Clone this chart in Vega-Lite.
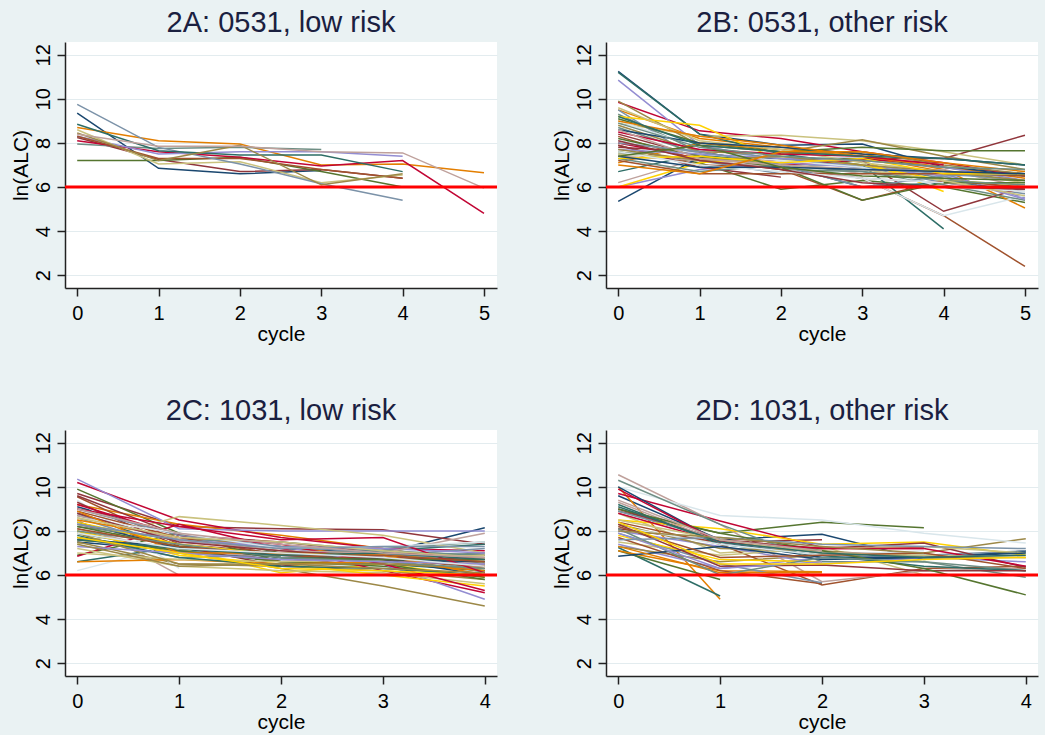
{
"$schema": "https://vega.github.io/schema/vega-lite/v6.json",
"background": "#eaf2f3",
"padding": {"left": 10, "top": 9, "right": 5, "bottom": 3},
"datasets": {
"A": [
{"s":1,"c":0,"y":9.35},{"s":1,"c":1,"y":6.85},{"s":1,"c":2,"y":6.6},{"s":1,"c":3,"y":6.75},
{"s":2,"c":0,"y":8.25},{"s":2,"c":1,"y":7.25},{"s":2,"c":2,"y":6.7},{"s":2,"c":3,"y":6.8},{"s":2,"c":4,"y":6.4},
{"s":3,"c":0,"y":7.2},{"s":3,"c":1,"y":7.2},{"s":3,"c":2,"y":7.35},{"s":3,"c":3,"y":6.7},{"s":3,"c":4,"y":6.0},
{"s":4,"c":0,"y":8.7},{"s":4,"c":1,"y":8.1},{"s":4,"c":2,"y":7.95},{"s":4,"c":3,"y":7.0},{"s":4,"c":4,"y":7.05},{"s":4,"c":5,"y":6.65},
{"s":5,"c":0,"y":7.95},{"s":5,"c":1,"y":7.75},{"s":5,"c":2,"y":7.8},{"s":5,"c":3,"y":7.7},
{"s":6,"c":0,"y":8.1},{"s":6,"c":1,"y":7.6},{"s":6,"c":2,"y":7.35},{"s":6,"c":3,"y":6.95},{"s":6,"c":4,"y":7.2},{"s":6,"c":5,"y":4.8},
{"s":7,"c":0,"y":8.3},{"s":7,"c":1,"y":7.5},{"s":7,"c":2,"y":7.6},{"s":7,"c":3,"y":7.6},{"s":7,"c":4,"y":7.4},
{"s":8,"c":0,"y":8.6},{"s":8,"c":1,"y":7.05},{"s":8,"c":2,"y":7.15},{"s":8,"c":3,"y":6.2},{"s":8,"c":4,"y":6.55},
{"s":9,"c":0,"y":8.3},{"s":9,"c":1,"y":7.3},{"s":9,"c":2,"y":7.3},{"s":9,"c":3,"y":6.8},{"s":9,"c":4,"y":6.4},
{"s":10,"c":0,"y":9.75},{"s":10,"c":1,"y":7.8},{"s":10,"c":2,"y":7.05},{"s":10,"c":3,"y":6.15},{"s":10,"c":4,"y":5.4},
{"s":11,"c":0,"y":8.85},{"s":11,"c":1,"y":7.65},{"s":11,"c":2,"y":7.45},{"s":11,"c":3,"y":7.45},{"s":11,"c":4,"y":6.7},
{"s":12,"c":0,"y":8.45},{"s":12,"c":1,"y":7.2},{"s":12,"c":2,"y":7.9},{"s":12,"c":3,"y":6.1},{"s":12,"c":4,"y":6.6},
{"s":13,"c":0,"y":8.4},{"s":13,"c":1,"y":7.85},{"s":13,"c":2,"y":7.85},{"s":13,"c":3,"y":7.6},{"s":13,"c":4,"y":7.55},{"s":13,"c":5,"y":5.95}
],
"B": [
{"s":1,"c":0,"y":11.25},{"s":1,"c":1,"y":8.4},{"s":1,"c":2,"y":7.9},{"s":1,"c":3,"y":7.95},{"s":1,"c":4,"y":6.9},{"s":1,"c":5,"y":6.6},
{"s":2,"c":0,"y":8.4},{"s":2,"c":1,"y":7.4},{"s":2,"c":2,"y":7.2},{"s":2,"c":3,"y":7.3},{"s":2,"c":4,"y":7.3},{"s":2,"c":5,"y":8.35},
{"s":3,"c":0,"y":7.6},{"s":3,"c":1,"y":7.1},{"s":3,"c":2,"y":5.9},{"s":3,"c":3,"y":6.3},{"s":3,"c":4,"y":6.0},{"s":3,"c":5,"y":5.3},
{"s":4,"c":0,"y":9.5},{"s":4,"c":1,"y":8.2},{"s":4,"c":2,"y":7.8},{"s":4,"c":3,"y":7.5},{"s":4,"c":4,"y":6.8},{"s":4,"c":5,"y":5.05},
{"s":5,"c":0,"y":9.3},{"s":5,"c":1,"y":7.6},{"s":5,"c":2,"y":7.0},{"s":5,"c":3,"y":7.0},{"s":5,"c":4,"y":6.4},{"s":5,"c":5,"y":5.9},
{"s":6,"c":0,"y":9.85},{"s":6,"c":1,"y":8.55},{"s":6,"c":2,"y":8.2},{"s":6,"c":3,"y":7.6},{"s":6,"c":4,"y":7.1},{"s":6,"c":5,"y":6.5},
{"s":7,"c":0,"y":10.85},{"s":7,"c":1,"y":7.9},{"s":7,"c":2,"y":7.2},{"s":7,"c":3,"y":7.0},{"s":7,"c":4,"y":6.6},{"s":7,"c":5,"y":5.5},
{"s":8,"c":0,"y":8.9},{"s":8,"c":1,"y":8.3},{"s":8,"c":2,"y":8.35},{"s":8,"c":3,"y":8.1},{"s":8,"c":4,"y":7.6},{"s":8,"c":5,"y":7.0},
{"s":9,"c":0,"y":7.9},{"s":9,"c":1,"y":7.0},{"s":9,"c":2,"y":6.9},{"s":9,"c":3,"y":6.4},{"s":9,"c":4,"y":4.7},{"s":9,"c":5,"y":2.4},
{"s":10,"c":0,"y":9.5},{"s":10,"c":1,"y":7.2},{"s":10,"c":2,"y":6.6},{"s":10,"c":3,"y":6.9},{"s":10,"c":4,"y":6.2},{"s":10,"c":5,"y":5.7},
{"s":11,"c":0,"y":11.2},{"s":11,"c":1,"y":8.4},{"s":11,"c":2,"y":7.5},{"s":11,"c":3,"y":7.0},{"s":11,"c":4,"y":4.1},
{"s":12,"c":0,"y":9.9},{"s":12,"c":1,"y":7.9},{"s":12,"c":2,"y":7.6},{"s":12,"c":3,"y":8.15},{"s":12,"c":4,"y":7.4},{"s":12,"c":5,"y":6.8},
{"s":13,"c":0,"y":6.2},{"s":13,"c":1,"y":7.3},{"s":13,"c":2,"y":7.1},{"s":13,"c":3,"y":6.6},{"s":13,"c":4,"y":6.8},{"s":13,"c":5,"y":6.0},
{"s":14,"c":0,"y":9.2},{"s":14,"c":1,"y":8.8},{"s":14,"c":2,"y":7.2},{"s":14,"c":3,"y":7.2},{"s":14,"c":4,"y":5.8},
{"s":15,"c":0,"y":9.0},{"s":15,"c":1,"y":7.8},{"s":15,"c":2,"y":7.2},{"s":15,"c":3,"y":6.4},{"s":15,"c":4,"y":4.7},{"s":15,"c":5,"y":5.6},
{"s":16,"c":0,"y":5.35},{"s":16,"c":1,"y":7.35},{"s":16,"c":2,"y":7.3},{"s":16,"c":3,"y":7.3},{"s":16,"c":4,"y":6.9},{"s":16,"c":5,"y":6.5},
{"s":17,"c":0,"y":7.8},{"s":17,"c":1,"y":7.6},{"s":17,"c":2,"y":7.0},{"s":17,"c":3,"y":7.2},{"s":17,"c":4,"y":4.9},{"s":17,"c":5,"y":6.0},
{"s":18,"c":0,"y":9.1},{"s":18,"c":1,"y":8.0},{"s":18,"c":2,"y":7.6},{"s":18,"c":3,"y":7.8},{"s":18,"c":4,"y":7.65},{"s":18,"c":5,"y":7.65},
{"s":19,"c":0,"y":7.1},{"s":19,"c":1,"y":8.0},{"s":19,"c":2,"y":7.7},{"s":19,"c":3,"y":7.4},{"s":19,"c":4,"y":6.7},{"s":19,"c":5,"y":6.55},
{"s":20,"c":0,"y":8.7},{"s":20,"c":1,"y":7.5},{"s":20,"c":2,"y":6.8},{"s":20,"c":3,"y":6.7},{"s":20,"c":4,"y":6.1},{"s":20,"c":5,"y":5.4},
{"s":21,"c":0,"y":8.0},{"s":21,"c":1,"y":7.3},{"s":21,"c":2,"y":7.0},{"s":21,"c":3,"y":7.25},{"s":21,"c":4,"y":7.1},
{"s":22,"c":0,"y":6.0},{"s":22,"c":1,"y":6.8},{"s":22,"c":2,"y":7.1},{"s":22,"c":3,"y":6.9},{"s":22,"c":4,"y":6.5},{"s":22,"c":5,"y":5.45},
{"s":23,"c":0,"y":9.6},{"s":23,"c":1,"y":8.1},{"s":23,"c":2,"y":7.7},{"s":23,"c":3,"y":7.1},{"s":23,"c":4,"y":6.7},{"s":23,"c":5,"y":6.2},
{"s":24,"c":0,"y":8.3},{"s":24,"c":1,"y":7.2},{"s":24,"c":2,"y":6.8},{"s":24,"c":3,"y":5.4},{"s":24,"c":4,"y":6.3},{"s":24,"c":5,"y":6.0},
{"s":25,"c":0,"y":7.5},{"s":25,"c":1,"y":7.7},{"s":25,"c":2,"y":7.3},{"s":25,"c":3,"y":6.9},{"s":25,"c":4,"y":6.6},{"s":25,"c":5,"y":6.3},
{"s":26,"c":0,"y":6.7},{"s":26,"c":1,"y":7.5},{"s":26,"c":2,"y":7.0},{"s":26,"c":3,"y":6.0},{"s":26,"c":4,"y":6.2},{"s":26,"c":5,"y":5.9},
{"s":27,"c":0,"y":8.8},{"s":27,"c":1,"y":7.6},{"s":27,"c":2,"y":7.5},{"s":27,"c":3,"y":7.6},{"s":27,"c":4,"y":7.0},{"s":27,"c":5,"y":6.6},
{"s":28,"c":0,"y":7.4},{"s":28,"c":1,"y":7.2},{"s":28,"c":2,"y":6.9},{"s":28,"c":3,"y":6.4},{"s":28,"c":4,"y":6.2},{"s":28,"c":5,"y":5.8},
{"s":29,"c":0,"y":6.0},{"s":29,"c":1,"y":7.1},{"s":29,"c":2,"y":7.4},{"s":29,"c":3,"y":7.0},{"s":29,"c":4,"y":6.3},{"s":29,"c":5,"y":6.1},
{"s":30,"c":0,"y":8.1},{"s":30,"c":1,"y":7.5},{"s":30,"c":2,"y":7.2},{"s":30,"c":3,"y":6.9},{"s":30,"c":4,"y":6.0},{"s":30,"c":5,"y":5.8},
{"s":31,"c":0,"y":8.6},{"s":31,"c":1,"y":8.0},{"s":31,"c":2,"y":7.8},{"s":31,"c":3,"y":7.5},{"s":31,"c":4,"y":7.3},{"s":31,"c":5,"y":7.0},
{"s":32,"c":0,"y":7.9},{"s":32,"c":1,"y":6.9},{"s":32,"c":2,"y":6.45},
{"s":33,"c":0,"y":8.2},{"s":33,"c":1,"y":7.4},{"s":33,"c":2,"y":6.9},{"s":33,"c":3,"y":5.4},{"s":33,"c":4,"y":6.2},{"s":33,"c":5,"y":6.2},
{"s":34,"c":0,"y":9.0},{"s":34,"c":1,"y":8.3},{"s":34,"c":2,"y":7.9},{"s":34,"c":3,"y":7.4},{"s":34,"c":4,"y":6.9},{"s":34,"c":5,"y":6.4},
{"s":35,"c":0,"y":7.3},{"s":35,"c":1,"y":6.7},{"s":35,"c":2,"y":7.0},{"s":35,"c":3,"y":6.7},{"s":35,"c":4,"y":6.3},{"s":35,"c":5,"y":6.1},
{"s":36,"c":0,"y":8.5},{"s":36,"c":1,"y":7.7},{"s":36,"c":2,"y":7.5},{"s":36,"c":3,"y":7.4},{"s":36,"c":4,"y":7.0},
{"s":37,"c":0,"y":7.7},{"s":37,"c":1,"y":7.5},{"s":37,"c":2,"y":7.3},{"s":37,"c":3,"y":7.2},{"s":37,"c":4,"y":6.9},{"s":37,"c":5,"y":6.3},
{"s":38,"c":0,"y":7.5},{"s":38,"c":1,"y":7.3},{"s":38,"c":2,"y":7.0},{"s":38,"c":3,"y":6.8},{"s":38,"c":4,"y":6.3},{"s":38,"c":5,"y":5.6},
{"s":39,"c":0,"y":7.2},{"s":39,"c":1,"y":6.6},{"s":39,"c":2,"y":6.6},{"s":39,"c":3,"y":6.6},{"s":39,"c":4,"y":6.6},{"s":39,"c":5,"y":6.5},
{"s":40,"c":0,"y":8.0},{"s":40,"c":1,"y":7.6},{"s":40,"c":2,"y":7.0},{"s":40,"c":3,"y":6.0},{"s":40,"c":4,"y":6.5},{"s":40,"c":5,"y":6.6},
{"s":41,"c":0,"y":9.2},{"s":41,"c":1,"y":7.9},{"s":41,"c":2,"y":7.6},{"s":41,"c":3,"y":7.4},{"s":41,"c":4,"y":7.3},{"s":41,"c":5,"y":7.0},
{"s":42,"c":0,"y":7.7},{"s":42,"c":1,"y":7.2},{"s":42,"c":2,"y":7.4},{"s":42,"c":3,"y":7.0},{"s":42,"c":4,"y":6.7},{"s":42,"c":5,"y":6.3},
{"s":43,"c":0,"y":8.6},{"s":43,"c":1,"y":7.3},{"s":43,"c":2,"y":7.0},{"s":43,"c":3,"y":6.8},{"s":43,"c":4,"y":6.7},
{"s":44,"c":0,"y":7.3},{"s":44,"c":1,"y":7.4},{"s":44,"c":2,"y":7.1},{"s":44,"c":3,"y":7.3},{"s":44,"c":4,"y":6.6},{"s":44,"c":5,"y":6.6},
{"s":45,"c":0,"y":7.6},{"s":45,"c":1,"y":7.0},{"s":45,"c":2,"y":6.7},{"s":45,"c":3,"y":6.4},{"s":45,"c":4,"y":6.2},
{"s":46,"c":0,"y":7.4},{"s":46,"c":1,"y":6.9},{"s":46,"c":2,"y":6.9},{"s":46,"c":3,"y":6.8},{"s":46,"c":4,"y":6.7},{"s":46,"c":5,"y":6.6},
{"s":47,"c":0,"y":8.1},{"s":47,"c":1,"y":7.2},{"s":47,"c":2,"y":6.8},{"s":47,"c":3,"y":6.2},{"s":47,"c":4,"y":6.0},{"s":47,"c":5,"y":5.9},
{"s":48,"c":0,"y":7.4},{"s":48,"c":1,"y":7.9},{"s":48,"c":2,"y":6.9},{"s":48,"c":3,"y":6.5},{"s":48,"c":4,"y":6.4},{"s":48,"c":5,"y":6.3},
{"s":49,"c":0,"y":7.0},{"s":49,"c":1,"y":6.6},{"s":49,"c":2,"y":7.6},{"s":49,"c":3,"y":7.6},{"s":49,"c":4,"y":7.1},{"s":49,"c":5,"y":6.7},
{"s":50,"c":0,"y":8.9},{"s":50,"c":1,"y":7.8},{"s":50,"c":2,"y":7.4},{"s":50,"c":3,"y":7.2},{"s":50,"c":4,"y":6.9},{"s":50,"c":5,"y":6.8}
],
"C": [
{"s":1,"c":0,"y":9.1},{"s":1,"c":1,"y":7.8},{"s":1,"c":2,"y":7.2},{"s":1,"c":3,"y":7.0},{"s":1,"c":4,"y":8.15},
{"s":2,"c":0,"y":9.7},{"s":2,"c":1,"y":8.2},{"s":2,"c":2,"y":8.1},{"s":2,"c":3,"y":8.05},{"s":2,"c":4,"y":7.4},
{"s":3,"c":0,"y":9.9},{"s":3,"c":1,"y":7.9},{"s":3,"c":2,"y":7.0},{"s":3,"c":3,"y":6.6},{"s":3,"c":4,"y":6.2},
{"s":4,"c":0,"y":9.2},{"s":4,"c":1,"y":8.3},{"s":4,"c":2,"y":7.8},{"s":4,"c":3,"y":7.2},{"s":4,"c":4,"y":6.5},
{"s":5,"c":0,"y":8.7},{"s":5,"c":1,"y":7.6},{"s":5,"c":2,"y":7.2},{"s":5,"c":3,"y":7.2},{"s":5,"c":4,"y":7.5},
{"s":6,"c":0,"y":10.2},{"s":6,"c":1,"y":8.5},{"s":6,"c":2,"y":7.7},{"s":6,"c":3,"y":7.2},{"s":6,"c":4,"y":7.1},
{"s":7,"c":0,"y":10.35},{"s":7,"c":1,"y":8.1},{"s":7,"c":2,"y":8.0},{"s":7,"c":3,"y":8.0},{"s":7,"c":4,"y":8.0},
{"s":8,"c":0,"y":7.4},{"s":8,"c":1,"y":8.65},{"s":8,"c":2,"y":8.25},{"s":8,"c":3,"y":7.8},{"s":8,"c":4,"y":7.0},
{"s":9,"c":0,"y":9.55},{"s":9,"c":1,"y":7.4},{"s":9,"c":2,"y":7.0},{"s":9,"c":3,"y":6.7},{"s":9,"c":4,"y":6.4},
{"s":10,"c":0,"y":8.6},{"s":10,"c":1,"y":7.2},{"s":10,"c":2,"y":6.8},{"s":10,"c":3,"y":6.9},{"s":10,"c":4,"y":7.2},
{"s":11,"c":0,"y":8.8},{"s":11,"c":1,"y":7.2},{"s":11,"c":2,"y":6.6},{"s":11,"c":3,"y":6.5},{"s":11,"c":4,"y":6.2},
{"s":12,"c":0,"y":8.0},{"s":12,"c":1,"y":7.0},{"s":12,"c":2,"y":6.3},{"s":12,"c":3,"y":5.5},{"s":12,"c":4,"y":4.6},
{"s":13,"c":0,"y":8.5},{"s":13,"c":1,"y":6.0},
{"s":14,"c":0,"y":7.6},{"s":14,"c":1,"y":7.2},{"s":14,"c":2,"y":6.1},{"s":14,"c":3,"y":6.5},{"s":14,"c":4,"y":5.9},
{"s":15,"c":0,"y":6.2},{"s":15,"c":1,"y":7.4},{"s":15,"c":2,"y":6.9},{"s":15,"c":3,"y":6.9},{"s":15,"c":4,"y":6.7},
{"s":16,"c":0,"y":7.5},{"s":16,"c":1,"y":7.1},{"s":16,"c":2,"y":6.7},{"s":16,"c":3,"y":6.8},{"s":16,"c":4,"y":6.5},
{"s":17,"c":0,"y":9.6},{"s":17,"c":1,"y":7.8},{"s":17,"c":2,"y":7.5},{"s":17,"c":3,"y":7.0},{"s":17,"c":4,"y":6.9},
{"s":18,"c":0,"y":6.9},{"s":18,"c":1,"y":7.9},{"s":18,"c":2,"y":6.6},{"s":18,"c":3,"y":6.4},{"s":18,"c":4,"y":5.9},
{"s":19,"c":0,"y":8.5},{"s":19,"c":1,"y":7.7},{"s":19,"c":2,"y":7.3},{"s":19,"c":3,"y":6.8},{"s":19,"c":4,"y":6.4},
{"s":20,"c":0,"y":7.9},{"s":20,"c":1,"y":7.1},{"s":20,"c":2,"y":6.9},{"s":20,"c":3,"y":6.8},{"s":20,"c":4,"y":7.0},
{"s":21,"c":0,"y":6.85},{"s":21,"c":1,"y":8.3},{"s":21,"c":2,"y":7.2},{"s":21,"c":3,"y":6.2},{"s":21,"c":4,"y":5.2},
{"s":22,"c":0,"y":8.8},{"s":22,"c":1,"y":7.5},{"s":22,"c":2,"y":7.3},{"s":22,"c":3,"y":6.5},{"s":22,"c":4,"y":4.9},
{"s":23,"c":0,"y":7.2},{"s":23,"c":1,"y":6.4},{"s":23,"c":2,"y":6.2},{"s":23,"c":3,"y":6.1},{"s":23,"c":4,"y":5.6},
{"s":24,"c":0,"y":8.3},{"s":24,"c":1,"y":7.4},{"s":24,"c":2,"y":6.6},{"s":24,"c":3,"y":6.8},{"s":24,"c":4,"y":6.3},
{"s":25,"c":0,"y":7.7},{"s":25,"c":1,"y":6.8},{"s":25,"c":2,"y":6.9},{"s":25,"c":3,"y":7.2},{"s":25,"c":4,"y":6.1},
{"s":26,"c":0,"y":6.6},{"s":26,"c":1,"y":7.3},{"s":26,"c":2,"y":7.0},{"s":26,"c":3,"y":7.1},{"s":26,"c":4,"y":7.4},
{"s":27,"c":0,"y":7.5},{"s":27,"c":1,"y":6.5},{"s":27,"c":2,"y":6.4},{"s":27,"c":3,"y":6.2},{"s":27,"c":4,"y":5.8},
{"s":28,"c":0,"y":8.1},{"s":28,"c":1,"y":7.0},{"s":28,"c":2,"y":6.9},{"s":28,"c":3,"y":6.9},{"s":28,"c":4,"y":6.5},
{"s":29,"c":0,"y":8.0},{"s":29,"c":1,"y":6.9},{"s":29,"c":2,"y":6.5},{"s":29,"c":3,"y":6.0},{"s":29,"c":4,"y":5.5},
{"s":30,"c":0,"y":9.4},{"s":30,"c":1,"y":6.3},
{"s":31,"c":0,"y":8.4},{"s":31,"c":1,"y":7.2},{"s":31,"c":2,"y":6.9},{"s":31,"c":3,"y":6.7},{"s":31,"c":4,"y":6.0},
{"s":32,"c":0,"y":9.3},{"s":32,"c":1,"y":7.3},{"s":32,"c":2,"y":6.4},{"s":32,"c":3,"y":6.9},{"s":32,"c":4,"y":6.8},
{"s":33,"c":0,"y":7.7},{"s":33,"c":1,"y":7.1},{"s":33,"c":2,"y":6.6},{"s":33,"c":3,"y":6.5},{"s":33,"c":4,"y":5.8},
{"s":34,"c":0,"y":6.6},{"s":34,"c":1,"y":6.7},{"s":34,"c":2,"y":6.5},{"s":34,"c":3,"y":6.6},{"s":34,"c":4,"y":6.2},
{"s":35,"c":0,"y":8.2},{"s":35,"c":1,"y":7.6},{"s":35,"c":2,"y":7.5},{"s":35,"c":3,"y":7.1},{"s":35,"c":4,"y":6.9},
{"s":36,"c":0,"y":9.2},{"s":36,"c":1,"y":7.8},{"s":36,"c":2,"y":7.4},{"s":36,"c":3,"y":6.5},{"s":36,"c":4,"y":5.3},
{"s":37,"c":0,"y":8.3},{"s":37,"c":1,"y":7.6},{"s":37,"c":2,"y":7.3},{"s":37,"c":3,"y":7.2},{"s":37,"c":4,"y":7.0},
{"s":38,"c":0,"y":7.0},{"s":38,"c":1,"y":6.7},{"s":38,"c":2,"y":6.6},{"s":38,"c":3,"y":6.7},{"s":38,"c":4,"y":6.9},
{"s":39,"c":0,"y":8.9},{"s":39,"c":1,"y":7.7},{"s":39,"c":2,"y":6.9},{"s":39,"c":3,"y":6.7},{"s":39,"c":4,"y":6.4},
{"s":40,"c":0,"y":9.0},{"s":40,"c":1,"y":7.8},{"s":40,"c":2,"y":7.3},{"s":40,"c":3,"y":7.0},{"s":40,"c":4,"y":6.6},
{"s":41,"c":0,"y":7.8},{"s":41,"c":1,"y":6.8},{"s":41,"c":2,"y":6.4},{"s":41,"c":3,"y":6.3},{"s":41,"c":4,"y":6.0},
{"s":42,"c":0,"y":7.9},{"s":42,"c":1,"y":6.5},{"s":42,"c":2,"y":6.5},{"s":42,"c":3,"y":6.5},{"s":42,"c":4,"y":6.3},
{"s":43,"c":0,"y":8.7},{"s":43,"c":1,"y":7.6},{"s":43,"c":2,"y":7.1},{"s":43,"c":3,"y":7.0},{"s":43,"c":4,"y":7.9},
{"s":44,"c":0,"y":8.4},{"s":44,"c":1,"y":7.4},{"s":44,"c":2,"y":6.9},{"s":44,"c":3,"y":6.9},{"s":44,"c":4,"y":6.6},
{"s":45,"c":0,"y":8.6},{"s":45,"c":1,"y":7.9},{"s":45,"c":2,"y":7.2},{"s":45,"c":3,"y":7.3},{"s":45,"c":4,"y":7.5},
{"s":46,"c":0,"y":7.6},{"s":46,"c":1,"y":7.3},{"s":46,"c":2,"y":6.8},{"s":46,"c":3,"y":6.7},{"s":46,"c":4,"y":6.6},
{"s":47,"c":0,"y":8.8},{"s":47,"c":1,"y":7.5},{"s":47,"c":2,"y":7.1},{"s":47,"c":3,"y":6.8},{"s":47,"c":4,"y":6.7},
{"s":48,"c":0,"y":8.2},{"s":48,"c":1,"y":7.3},{"s":48,"c":2,"y":6.8},{"s":48,"c":3,"y":6.7},{"s":48,"c":4,"y":6.7},
{"s":49,"c":0,"y":8.9},{"s":49,"c":1,"y":7.0},{"s":49,"c":2,"y":7.0},{"s":49,"c":3,"y":6.9},{"s":49,"c":4,"y":6.0},
{"s":50,"c":0,"y":8.0},{"s":50,"c":1,"y":7.4},{"s":50,"c":2,"y":6.8},{"s":50,"c":3,"y":6.6},{"s":50,"c":4,"y":6.3},
{"s":51,"c":0,"y":9.0},{"s":51,"c":1,"y":8.2},{"s":51,"c":2,"y":7.6},{"s":51,"c":3,"y":7.7},{"s":51,"c":4,"y":6.1},
{"s":52,"c":0,"y":7.3},{"s":52,"c":1,"y":7.0},{"s":52,"c":2,"y":6.7},{"s":52,"c":3,"y":6.6},{"s":52,"c":4,"y":6.5},
{"s":53,"c":0,"y":8.6},{"s":53,"c":1,"y":7.7},{"s":53,"c":2,"y":7.5},{"s":53,"c":3,"y":7.1},{"s":53,"c":4,"y":6.8},
{"s":54,"c":0,"y":8.1},{"s":54,"c":1,"y":7.3},{"s":54,"c":2,"y":6.9},{"s":54,"c":3,"y":6.9},{"s":54,"c":4,"y":6.6},
{"s":55,"c":0,"y":8.3},{"s":55,"c":1,"y":7.6},{"s":55,"c":2,"y":7.2},{"s":55,"c":3,"y":7.3},{"s":55,"c":4,"y":7.3},
{"s":56,"c":0,"y":7.6},{"s":56,"c":1,"y":7.2},{"s":56,"c":2,"y":6.9},{"s":56,"c":3,"y":7.0},{"s":56,"c":4,"y":6.7},
{"s":57,"c":0,"y":7.4},{"s":57,"c":1,"y":6.4},{"s":57,"c":2,"y":6.5},{"s":57,"c":3,"y":6.3},{"s":57,"c":4,"y":6.1},
{"s":58,"c":0,"y":9.0},{"s":58,"c":1,"y":7.9},{"s":58,"c":2,"y":7.4},{"s":58,"c":3,"y":7.0},{"s":58,"c":4,"y":6.8},
{"s":59,"c":0,"y":7.7},{"s":59,"c":1,"y":7.0},{"s":59,"c":2,"y":6.3},{"s":59,"c":3,"y":6.2},{"s":59,"c":4,"y":6.0},
{"s":60,"c":0,"y":7.9},{"s":60,"c":1,"y":7.2},{"s":60,"c":2,"y":7.0},{"s":60,"c":3,"y":6.8},{"s":60,"c":4,"y":6.4}
],
"D": [
{"s":1,"c":0,"y":9.6},{"s":1,"c":1,"y":7.6},{"s":1,"c":2,"y":7.85},{"s":1,"c":3,"y":6.7},{"s":1,"c":4,"y":7.1},
{"s":2,"c":0,"y":8.1},{"s":2,"c":1,"y":7.5},{"s":2,"c":2,"y":7.6},
{"s":3,"c":0,"y":8.9},{"s":3,"c":1,"y":7.9},{"s":3,"c":2,"y":8.4},{"s":3,"c":3,"y":8.15},
{"s":4,"c":0,"y":10.0},{"s":4,"c":1,"y":4.9},
{"s":5,"c":0,"y":8.9},{"s":5,"c":1,"y":7.6},{"s":5,"c":2,"y":7.0},{"s":5,"c":3,"y":6.6},{"s":5,"c":4,"y":5.9},
{"s":6,"c":0,"y":9.7},{"s":6,"c":1,"y":8.45},{"s":6,"c":2,"y":7.25},{"s":6,"c":3,"y":7.25},
{"s":7,"c":0,"y":7.4},{"s":7,"c":1,"y":6.3},{"s":7,"c":2,"y":6.8},{"s":7,"c":3,"y":6.8},{"s":7,"c":4,"y":6.6},
{"s":8,"c":0,"y":8.8},{"s":8,"c":1,"y":7.0},{"s":8,"c":2,"y":7.3},{"s":8,"c":3,"y":6.0},
{"s":9,"c":0,"y":8.4},{"s":9,"c":1,"y":7.4},{"s":9,"c":2,"y":5.55},{"s":9,"c":3,"y":6.3},{"s":9,"c":4,"y":6.4},
{"s":10,"c":0,"y":8.9},{"s":10,"c":1,"y":7.6},{"s":10,"c":2,"y":6.8},{"s":10,"c":3,"y":6.9},{"s":10,"c":4,"y":7.1},
{"s":11,"c":0,"y":7.25},{"s":11,"c":1,"y":5.05},
{"s":12,"c":0,"y":7.3},{"s":12,"c":1,"y":6.6},{"s":12,"c":2,"y":6.9},{"s":12,"c":3,"y":7.0},{"s":12,"c":4,"y":7.65},
{"s":13,"c":0,"y":10.55},{"s":13,"c":1,"y":8.3},{"s":13,"c":2,"y":5.7},{"s":13,"c":3,"y":6.2},{"s":13,"c":4,"y":6.3},
{"s":14,"c":0,"y":8.5},{"s":14,"c":1,"y":8.1},{"s":14,"c":2,"y":7.4},{"s":14,"c":3,"y":7.5},{"s":14,"c":4,"y":6.9},
{"s":15,"c":0,"y":10.0},{"s":15,"c":1,"y":8.7},{"s":15,"c":2,"y":8.5},{"s":15,"c":3,"y":7.9},{"s":15,"c":4,"y":7.45},
{"s":16,"c":0,"y":10.0},{"s":16,"c":1,"y":7.5},{"s":16,"c":2,"y":6.8},{"s":16,"c":3,"y":6.8},{"s":16,"c":4,"y":7.05},
{"s":17,"c":0,"y":9.0},{"s":17,"c":1,"y":7.6},{"s":17,"c":2,"y":7.2},{"s":17,"c":3,"y":7.45},{"s":17,"c":4,"y":6.35},
{"s":18,"c":0,"y":7.1},{"s":18,"c":1,"y":5.8},
{"s":19,"c":0,"y":7.1},{"s":19,"c":1,"y":6.2},{"s":19,"c":2,"y":6.15},
{"s":20,"c":0,"y":10.3},{"s":20,"c":1,"y":8.3},{"s":20,"c":2,"y":6.6},{"s":20,"c":3,"y":6.6},{"s":20,"c":4,"y":6.2},
{"s":21,"c":0,"y":8.8},{"s":21,"c":1,"y":7.5},{"s":21,"c":2,"y":7.2},{"s":21,"c":3,"y":7.2},{"s":21,"c":4,"y":6.4},
{"s":22,"c":0,"y":8.0},{"s":22,"c":1,"y":7.3},{"s":22,"c":2,"y":6.5},{"s":22,"c":3,"y":6.8},
{"s":23,"c":0,"y":7.5},{"s":23,"c":1,"y":6.9},{"s":23,"c":2,"y":7.2},{"s":23,"c":3,"y":7.3},{"s":23,"c":4,"y":7.0},
{"s":24,"c":0,"y":7.7},{"s":24,"c":1,"y":6.2},{"s":24,"c":2,"y":5.6},
{"s":25,"c":0,"y":7.9},{"s":25,"c":1,"y":6.5},{"s":25,"c":2,"y":5.65},
{"s":26,"c":0,"y":9.2},{"s":26,"c":1,"y":7.4},{"s":26,"c":2,"y":6.9},{"s":26,"c":3,"y":6.4},{"s":26,"c":4,"y":6.2},
{"s":27,"c":0,"y":8.3},{"s":27,"c":1,"y":7.2},{"s":27,"c":2,"y":7.1},{"s":27,"c":3,"y":6.8},{"s":27,"c":4,"y":6.8},
{"s":28,"c":0,"y":9.3},{"s":28,"c":1,"y":7.5},{"s":28,"c":2,"y":7.0},{"s":28,"c":3,"y":7.0},
{"s":29,"c":0,"y":7.8},{"s":29,"c":1,"y":6.7},{"s":29,"c":2,"y":6.6},
{"s":30,"c":0,"y":8.2},{"s":30,"c":1,"y":7.4},{"s":30,"c":2,"y":6.9},{"s":30,"c":3,"y":7.1},
{"s":31,"c":0,"y":6.85},{"s":31,"c":1,"y":7.3},{"s":31,"c":2,"y":6.7},{"s":31,"c":3,"y":6.8},{"s":31,"c":4,"y":7.0},
{"s":32,"c":0,"y":8.3},{"s":32,"c":1,"y":6.4},{"s":32,"c":2,"y":6.45},{"s":32,"c":3,"y":6.2},{"s":32,"c":4,"y":6.2},
{"s":33,"c":0,"y":9.0},{"s":33,"c":1,"y":7.9},{"s":33,"c":2,"y":7.1},{"s":33,"c":3,"y":6.3},{"s":33,"c":4,"y":5.1},
{"s":34,"c":0,"y":7.3},{"s":34,"c":1,"y":6.1},{"s":34,"c":2,"y":6.1},
{"s":35,"c":0,"y":8.1},{"s":35,"c":1,"y":6.0},{"s":35,"c":2,"y":6.8},{"s":35,"c":3,"y":6.6},
{"s":36,"c":0,"y":9.9},{"s":36,"c":1,"y":7.5},{"s":36,"c":2,"y":7.2},{"s":36,"c":3,"y":7.2},
{"s":37,"c":0,"y":7.9},{"s":37,"c":1,"y":6.3},{"s":37,"c":2,"y":6.6},
{"s":38,"c":0,"y":8.5},{"s":38,"c":1,"y":7.6},{"s":38,"c":2,"y":7.0},{"s":38,"c":3,"y":6.9},{"s":38,"c":4,"y":6.8},
{"s":39,"c":0,"y":8.2},{"s":39,"c":1,"y":6.8},{"s":39,"c":2,"y":6.9},{"s":39,"c":3,"y":7.0},{"s":39,"c":4,"y":6.3},
{"s":40,"c":0,"y":7.6},{"s":40,"c":1,"y":7.7},{"s":40,"c":2,"y":7.4},{"s":40,"c":3,"y":7.3},{"s":40,"c":4,"y":7.2},
{"s":41,"c":0,"y":9.1},{"s":41,"c":1,"y":7.5},{"s":41,"c":2,"y":7.0},{"s":41,"c":3,"y":6.8},{"s":41,"c":4,"y":6.9},
{"s":42,"c":0,"y":8.0},{"s":42,"c":1,"y":7.7},{"s":42,"c":2,"y":7.3},{"s":42,"c":3,"y":7.0},
{"s":43,"c":0,"y":9.4},{"s":43,"c":1,"y":7.6},{"s":43,"c":2,"y":7.1},
{"s":44,"c":0,"y":8.4},{"s":44,"c":1,"y":6.5},{"s":44,"c":2,"y":6.5},{"s":44,"c":3,"y":6.7},{"s":44,"c":4,"y":6.8}
]
},
"columns": 2,
"spacing": {"row": 53, "column": 52},
"concat": [
{
"title": "2A: 0531, low risk",
"width": 432, "height": 246,
"layer": [
{"data": {"name": "A"}, "mark": {"type": "line", "strokeWidth": 1.5},
"encoding": {
"x": {"field": "c", "type": "quantitative", "scale": {"domain": [-0.15, 5.16], "nice": false, "zero": false}, "axis": {"values": [0,1,2,3,4,5], "title": "cycle", "format": "d"}},
"y": {"field": "y", "type": "quantitative", "scale": {"domain": [1.42, 12.58], "nice": false, "zero": false}, "axis": {"values": [2,4,6,8,10,12], "title": "ln(ALC)"}},
"color": {"field": "s", "type": "nominal", "legend": null, "scale": {"range": ["#1a476f","#90353b","#55752f","#e37e00","#6e8e84","#c10534","#938dd2","#cac27e","#a0522d","#7b92a8","#2d6d66","#9c8847","#bfa19c","#ffd200","#d9e6eb"]}}
}},
{"data": {"values": [{"t": 6}]}, "mark": {"type": "rule", "color": "#ff0000", "strokeWidth": 3}, "encoding": {"y": {"field": "t", "type": "quantitative"}}}
]
},
{
"title": "2B: 0531, other risk",
"width": 432, "height": 246,
"layer": [
{"data": {"name": "B"}, "mark": {"type": "line", "strokeWidth": 1.5},
"encoding": {
"x": {"field": "c", "type": "quantitative", "scale": {"domain": [-0.15, 5.16], "nice": false, "zero": false}, "axis": {"values": [0,1,2,3,4,5], "title": "cycle", "format": "d"}},
"y": {"field": "y", "type": "quantitative", "scale": {"domain": [1.42, 12.58], "nice": false, "zero": false}, "axis": {"values": [2,4,6,8,10,12], "title": "ln(ALC)"}},
"color": {"field": "s", "type": "nominal", "legend": null, "scale": {"range": ["#1a476f","#90353b","#55752f","#e37e00","#6e8e84","#c10534","#938dd2","#cac27e","#a0522d","#7b92a8","#2d6d66","#9c8847","#bfa19c","#ffd200","#d9e6eb"]}}
}},
{"data": {"values": [{"t": 6}]}, "mark": {"type": "rule", "color": "#ff0000", "strokeWidth": 3}, "encoding": {"y": {"field": "t", "type": "quantitative"}}}
]
},
{
"title": "2C: 1031, low risk",
"width": 432, "height": 246,
"layer": [
{"data": {"name": "C"}, "mark": {"type": "line", "strokeWidth": 1.5},
"encoding": {
"x": {"field": "c", "type": "quantitative", "scale": {"domain": [-0.12, 4.12], "nice": false, "zero": false}, "axis": {"values": [0,1,2,3,4], "title": "cycle", "format": "d"}},
"y": {"field": "y", "type": "quantitative", "scale": {"domain": [1.42, 12.58], "nice": false, "zero": false}, "axis": {"values": [2,4,6,8,10,12], "title": "ln(ALC)"}},
"color": {"field": "s", "type": "nominal", "legend": null, "scale": {"range": ["#1a476f","#90353b","#55752f","#e37e00","#6e8e84","#c10534","#938dd2","#cac27e","#a0522d","#7b92a8","#2d6d66","#9c8847","#bfa19c","#ffd200","#d9e6eb"]}}
}},
{"data": {"values": [{"t": 6}]}, "mark": {"type": "rule", "color": "#ff0000", "strokeWidth": 3}, "encoding": {"y": {"field": "t", "type": "quantitative"}}}
]
},
{
"title": "2D: 1031, other risk",
"width": 432, "height": 246,
"layer": [
{"data": {"name": "D"}, "mark": {"type": "line", "strokeWidth": 1.5},
"encoding": {
"x": {"field": "c", "type": "quantitative", "scale": {"domain": [-0.12, 4.12], "nice": false, "zero": false}, "axis": {"values": [0,1,2,3,4], "title": "cycle", "format": "d"}},
"y": {"field": "y", "type": "quantitative", "scale": {"domain": [1.42, 12.58], "nice": false, "zero": false}, "axis": {"values": [2,4,6,8,10,12], "title": "ln(ALC)"}},
"color": {"field": "s", "type": "nominal", "legend": null, "scale": {"range": ["#1a476f","#90353b","#55752f","#e37e00","#6e8e84","#c10534","#938dd2","#cac27e","#a0522d","#7b92a8","#2d6d66","#9c8847","#bfa19c","#ffd200","#d9e6eb"]}}
}},
{"data": {"values": [{"t": 6}]}, "mark": {"type": "rule", "color": "#ff0000", "strokeWidth": 3}, "encoding": {"y": {"field": "t", "type": "quantitative"}}}
]
}
],
"resolve": {"scale": {"color": "independent"}},
"config": {
"font": "Liberation Sans",
"view": {"fill": "#ffffff", "stroke": null},
"title": {"fontSize": 29, "fontWeight": "normal", "color": "#1a2040", "offset": 4, "anchor": "middle", "font": "Liberation Sans"},
"axis": {"domainColor": "#222222", "domainWidth": 1.5, "tickColor": "#222222", "tickWidth": 1.5, "tickSize": 8, "labelFontSize": 20, "labelColor": "#000000", "titleFontSize": 21, "titleFontWeight": "normal", "titleColor": "#000000", "labelFont": "Liberation Sans", "titleFont": "Liberation Sans", "labelFlush": false, "labelOverlap": false},
"axisX": {"grid": false, "labelPadding": 7, "titlePadding": 0},
"axisY": {"grid": true, "gridColor": "#e3ecef", "gridWidth": 1.2, "labelAngle": -90, "labelAlign": "center", "labelBaseline": "bottom", "labelPadding": 4, "titlePadding": 2}
}
}
